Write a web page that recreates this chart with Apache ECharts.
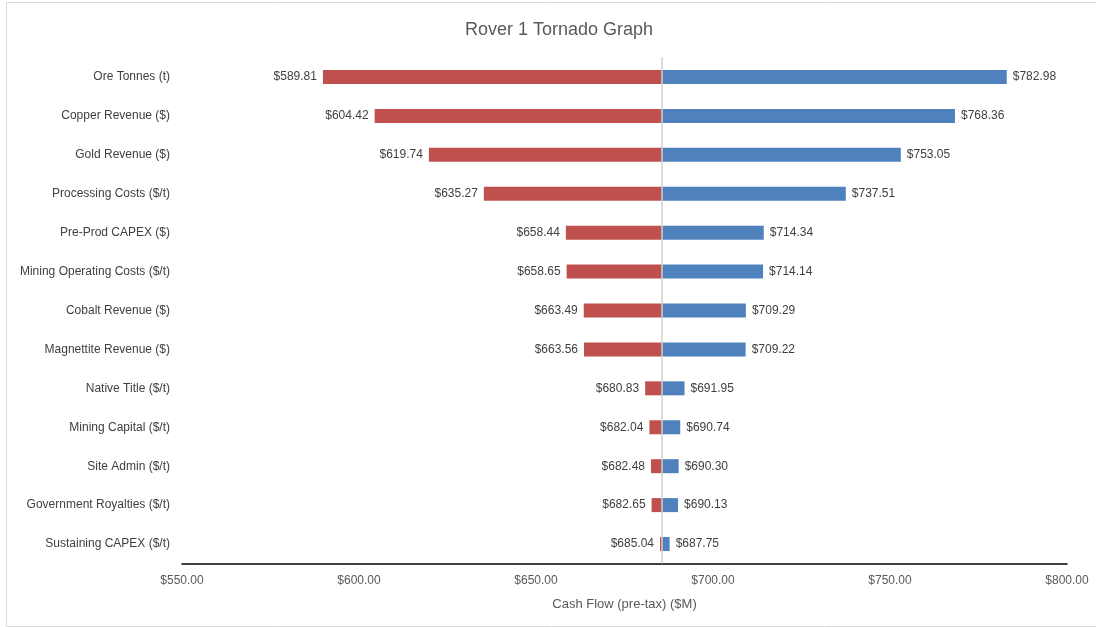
<!DOCTYPE html>
<html>
<head>
<meta charset="utf-8">
<script src="https://cdn.jsdelivr.net/npm/echarts@6/dist/echarts.min.js"></script>
<style>
html,body{margin:0;padding:0;background:#fff;}
#chart{width:1096px;height:627px;}
</style>
</head>
<body>
<div id="chart"></div>
<script>
var categories = [
  "Ore Tonnes (t)",
  "Copper Revenue ($)",
  "Gold Revenue ($)",
  "Processing Costs ($/t)",
  "Pre-Prod CAPEX ($)",
  "Mining Operating Costs ($/t)",
  "Cobalt Revenue ($)",
  "Magnettite Revenue ($)",
  "Native Title ($/t)",
  "Mining Capital ($/t)",
  "Site Admin ($/t)",
  "Government Royalties ($/t)",
  "Sustaining CAPEX ($/t)"
];
var lowValues = [589.81, 604.42, 619.74, 635.27, 658.44, 658.65, 663.49, 663.56, 680.83, 682.04, 682.48, 682.65, 685.04];
var highValues = [782.98, 768.36, 753.05, 737.51, 714.34, 714.14, 709.29, 709.22, 691.95, 690.74, 690.30, 690.13, 687.75];
var baseValue = 685.6;
var xTicks = [550, 600, 650, 700, 750, 800];

var offsetData = lowValues.map(function(v){ return v; });
var downData = lowValues.map(function(v){ return +(baseValue - v).toFixed(4); });
var upData = highValues.map(function(v){ return +(v - baseValue).toFixed(4); });

function money(v){ return '$' + v.toFixed(2); }

var font = "'Liberation Sans', Arial, sans-serif";
var chart = echarts.init(document.getElementById('chart'), null, {renderer: 'canvas'});
chart.setOption({
  animation: false,
  backgroundColor: '#fff',
  graphic: [{
    type: 'rect',
    shape: {x: 6.5, y: 2.5, width: 1100, height: 624},
    style: {fill: 'none', stroke: '#d9d9d9', lineWidth: 1},
    silent: true,
    z: -1
  }],
  title: {
    text: 'Rover 1 Tornado Graph',
    left: 554,
    top: 16,
    textAlign: 'center',
    textStyle: {fontFamily: font, fontSize: 18, fontWeight: 'normal', color: '#595959'}
  },
  grid: {left: 182, right: 29, top: 57.5, bottom: 63.5, containLabel: false},
  xAxis: {
    type: 'value',
    min: xTicks[0],
    max: xTicks[xTicks.length - 1],
    interval: 50,
    name: 'Cash Flow (pre-tax) ($M)',
    nameLocation: 'middle',
    nameGap: 34,
    nameTextStyle: {fontFamily: font, fontSize: 13, color: '#595959'},
    axisLine: {show: true, onZero: false, lineStyle: {color: '#000', width: 1.5}},
    axisTick: {show: false},
    splitLine: {show: false},
    axisLabel: {
      margin: 11,
      fontFamily: font, fontSize: 12, color: '#595959',
      formatter: function(v){ return money(v); }
    }
  },
  yAxis: {
    type: 'category',
    data: categories,
    inverse: true,
    axisLine: {show: false},
    axisTick: {show: false},
    splitLine: {show: false},
    axisLabel: {margin: 12, fontFamily: font, fontSize: 12, color: '#404040'}
  },
  series: [
    {
      name: 'offset',
      type: 'bar',
      stack: 't',
      barWidth: 14,
      data: offsetData,
      itemStyle: {color: 'transparent'},
      emphasis: {disabled: true},
      silent: true
    },
    {
      name: 'Low',
      type: 'bar',
      stack: 't',
      barWidth: 14,
      data: downData,
      itemStyle: {color: '#C0504D'},
      label: {
        show: true,
        position: 'left',
        distance: 6,
        fontFamily: font, fontSize: 12, color: '#404040',
        formatter: function(p){ return money(lowValues[p.dataIndex]); }
      },
      markLine: {
        silent: true,
        symbol: 'none',
        label: {show: false},
        lineStyle: {color: '#d0d0d0', width: 1.5, type: 'solid'},
        data: [{xAxis: baseValue}]
      }
    },
    {
      name: 'High',
      type: 'bar',
      stack: 't',
      barWidth: 14,
      data: upData,
      itemStyle: {color: '#4F81BD'},
      label: {
        show: true,
        position: 'right',
        distance: 6,
        fontFamily: font, fontSize: 12, color: '#404040',
        formatter: function(p){ return money(highValues[p.dataIndex]); }
      }
    }
  ]
});
</script>
</body>
</html>
